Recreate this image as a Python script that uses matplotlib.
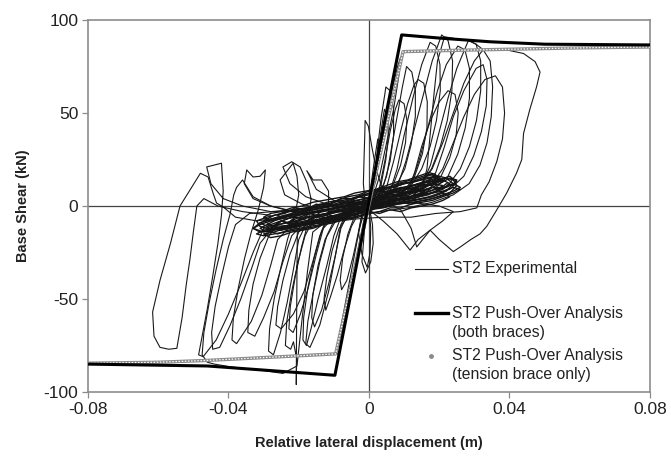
import numpy as np
import matplotlib
matplotlib.use('Agg')
import matplotlib.pyplot as plt

plt.rcParams['font.family'] = ['Liberation Sans', 'DejaVu Sans']
plt.rcParams['axes.unicode_minus'] = False

# ---- push-over curves (disp in mm, shear in kN) ----
po_disp_mm = [-80, -46, -9.7, 9.3, 20, 34.5, 50, 80]
po_shear = [-85.0, -86.0, -91.0, 92.0, 90.3, 88.3, 87.0, 86.6]

tb_disp_mm = [-80, -60, -46, -30, -9.5, 9.7, 20, 32.5, 59, 80]
tb_shear = [-84.5, -84.0, -83.0, -81.5, -79.5, 83.0, 83.5, 84.0, 85.0, 85.5]

# ---- experimental record, cycle by cycle (mm, kN) ----
core01 = [(0, 0), (3, 2), (7, 3), (11, 5), (14, 6), (16, 8), (14, 9), (10, 7), (6, 6), (2, 4), (-2, 1), (-6, -1),
          (-10, -3), (-14, -5), (-17, -7), (-15, -8), (-11, -6), (-7, -4), (-3, -2), (0, 0)]
cycA = [(0, -1), (1, 10), (2.2, 25), (3.4, 40), (4.4, 52), (5.3, 48), (5.5, 38), (4.8, 25), (3.5, 12), (1.5, 4),
        (-1.5, -4), (-3, -14), (-4.5, -27), (-6.3, -40), (-7.8, -45), (-8.2, -40), (-7.5, -28), (-6, -15),
        (-4, -5), (-1, 0)]
core02 = [(0, 0), (4, 1), (8, 3), (12, 4), (16, 6), (19, 8), (21, 11), (18, 12), (13, 10), (8, 8), (3, 5), (-2, 2),
          (-7, 0), (-12, -2), (-17, -4), (-21, -7), (-23, -9), (-20, -10), (-15, -8), (-9, -6), (-4, -3), (0, -1)]
cycB = [(-1, 0), (-1.6, 12), (-1.4, 26), (-1.2, 38), (-1.1, 46), (-0.2, 43), (0.8, 32), (2, 20), (3.5, 11),
        (5, 5), (3, 1), (0, -1), (-3, -4), (-5, -11), (-7, -23), (-9, -37), (-11, -49), (-12.3, -56),
        (-12.8, -50), (-12, -38), (-10.5, -24), (-8.5, -12), (-5, -3), (-2, 0)]
cycM = [(0, 0), (0.5, -12), (0.3, -25), (-0.5, -33), (-2, -26), (-3, -14), (-2, -4), (0, 2), (2, 14), (3, 28),
        (2.5, 36), (1.5, 24), (0.5, 10), (0, 0)]
core03 = [(0, -1), (5, 0), (9, 2), (13, 3), (18, 5), (22, 8), (24, 12), (22, 15), (17, 13), (12, 11), (7, 9),
          (2, 6), (-3, 3), (-8, 1), (-13, -1), (-18, -3), (-23, -5), (-27, -8), (-29, -10), (-26, -12),
          (-21, -10), (-15, -8), (-9, -6), (-4, -4), (0, -2)]
cycC = [(-2, 0), (0.5, 5), (1.5, 16), (2.5, 32), (3.5, 48), (4.5, 60), (4.8, 64), (6, 62), (7, 52), (7, 38),
        (6, 24), (4.3, 12), (2, 4), (-2, -1), (-6, -4), (-8, -12), (-9.5, -26), (-11.5, -42), (-13.5, -56),
        (-15.5, -65), (-16.3, -60), (-16, -48), (-14.5, -32), (-12.5, -18), (-9.5, -8), (-5, -2)]
cycN = [(-2, -5), (-4, -25), (-6, -45), (-8, -65), (-9.3, -79), (-8.5, -80), (-7, -62), (-5, -42), (-3, -22),
        (-1.5, -8), (0, 2), (2, 20), (4, 40), (6, 58), (8, 74), (9, 80), (8.5, 70), (7, 52), (5, 34),
        (3, 16), (1, 4)]
cycM2 = [(0, 0), (1, -10), (1.2, -20), (0.5, -30), (-1, -36), (-2, -30), (-1.5, -18), (-1, -6), (0, 0)]
core04 = [(0, -2), (4, -1), (8, 1), (12, 2), (16, 3), (20, 5), (23, 7), (25, 11), (24, 14), (20, 16), (15, 14),
          (10, 12), (5, 9), (0, 6), (-5, 4), (-10, 2), (-15, 0), (-20, -2), (-25, -4), (-29, -6), (-32, -8),
          (-31, -11), (-27, -13), (-22, -11), (-16, -9), (-10, -7), (-5, -5), (0, -3)]
cycP = [(-2, 0), (1, 3), (3, 10), (4.5, 24), (6, 40), (7.5, 52), (8.5, 57), (10, 55), (10.8, 46), (10.4, 34),
        (9, 22), (7, 12), (4, 5), (0, 1), (-4, -2), (-8, -5), (-12, -8), (-14, -16), (-16, -30), (-18.5, -46),
        (-21.5, -58), (-25, -66), (-26.5, -64), (-26, -54), (-24.5, -40), (-22.5, -26), (-20, -14),
        (-16, -6), (-10, -3), (-4, -1)]
core13 = [(0, 0), (2, 2), (4, 1), (6, 4), (8, 3), (10, 6), (12, 5), (14, 8), (16, 7), (18, 10), (20, 9), (22, 12),
          (24, 11), (25, 14), (23, 15), (21, 13), (19, 14), (17, 11), (15, 12), (13, 9), (11, 10), (9, 7),
          (7, 8), (5, 5), (3, 6), (1, 3), (-1, 4), (-3, 1), (-5, 2), (-7, -1), (-9, 0), (-11, -3), (-13, -2),
          (-15, -5), (-17, -4), (-19, -7), (-21, -6), (-23, -9), (-25, -8), (-27, -11), (-29, -10),
          (-31, -12), (-29, -14), (-27, -12), (-25, -13), (-23, -11), (-21, -12), (-19, -9), (-17, -10),
          (-15, -7), (-13, -8), (-11, -5), (-9, -6), (-7, -3), (-5, -4), (-3, -1), (-1, -2), (0, 0)]
cycD = [(-4, -2), (0, 1), (3, 6), (5, 16), (6.5, 32), (8, 48), (9.5, 64), (10.7, 75), (12.2, 72), (13.2, 62),
        (13.2, 48), (12, 33), (10.2, 20), (7.5, 10), (4, 4), (0, 1), (-5, -2), (-8, -6), (-10, -16),
        (-12, -32), (-14.5, -50), (-16.5, -66), (-17.8, -75), (-18.8, -72), (-18.6, -60), (-17.4, -44),
        (-15.6, -28), (-13.6, -14), (-11.5, -4), (-11.5, 8), (-13.5, 14), (-15.9, 14), (-17.7, 19),
        (-15, 9), (-10, 3), (-5, 0)]
core05 = [(0, -3), (3, 0), (6, 3), (10, 5), (14, 8), (18, 10), (21, 13), (19, 15), (15, 12), (11, 10), (7, 8),
          (3, 5), (-1, 3), (-5, 1), (-9, -1), (-13, -3), (-18, -4), (-22, -6), (-26, -9), (-28, -12),
          (-25, -13), (-20, -11), (-14, -9), (-9, -7), (-4, -5), (0, -2)]
cycE = [(-5, 0), (-1, 2), (3, 4), (5, 10), (7, 24), (9, 40), (11, 55), (12.8, 65), (14, 68), (15.6, 66),
        (16.6, 56), (16.5, 42), (15.2, 28), (13, 16), (10, 8), (6, 3), (1, 0), (-5, -3), (-10, -6),
        (-13, -12), (-15, -26), (-17.3, -44), (-19.5, -58), (-21.6, -68), (-22.8, -66), (-22.4, -54),
        (-21, -38), (-19.2, -22), (-17.2, -8), (-16.5, 4), (-17.5, 12), (-19.6, 21), (-22, 23.8),
        (-24.5, 21), (-22.5, 12), (-18, 5), (-12, 1), (-6, 0)]
core14 = [(0, 2), (3, 3), (6, 6), (9, 5), (12, 8), (15, 9), (18, 12), (21, 14), (19, 16), (16, 15), (13, 13),
          (10, 12), (7, 10), (4, 10), (1, 7), (-2, 6), (-5, 4), (-8, 4), (-11, 1), (-14, 1), (-17, -2),
          (-20, -2), (-23, -5), (-26, -6), (-29, -8), (-31, -9), (-29, -11), (-26, -10), (-23, -9), (-20, -8),
          (-17, -6), (-14, -6), (-11, -4), (-8, -3), (-5, -1), (-2, 0), (0, 2)]
cycF = [(-6, 0), (-1, 1), (3, 3), (6, 8), (8, 20), (10, 38), (12.5, 58), (15, 76), (17.4, 88), (19, 86),
        (20.2, 76), (20.3, 62), (19.2, 46), (17.4, 32), (15, 20), (12, 11), (8, 6), (3, 2), (-2, 0),
        (-6, -3), (-8, -10), (-9.5, -26), (-11.5, -46), (-14, -64), (-16.8, -76), (-18, -74), (-17.4, -62),
        (-15.8, -46), (-14, -30), (-12, -16), (-9.5, -6), (-4, -1)]
core06 = [(0, -2), (2, 3), (5, 6), (9, 8), (13, 10), (17, 12), (20, 16), (17, 17), (12, 14), (8, 12), (4, 9),
          (0, 7), (-4, 4), (-8, 2), (-12, 0), (-16, -1), (-20, -3), (-24, -5), (-28, -7), (-31, -9),
          (-33, -12), (-30, -14), (-25, -12), (-19, -10), (-13, -9), (-7, -6), (-2, -3)]
cycG = [(-3, -1), (1, 2), (5, 5), (8, 10), (10.5, 24), (13, 42), (15.5, 60), (18, 78), (20.7, 92), (22.5, 89),
        (23.8, 78), (23.6, 62), (22.3, 46), (20.3, 32), (17.8, 20), (14.5, 11), (10, 6), (4, 2), (-2, -1),
        (-8, -4), (-12, -7), (-16, -10), (-20.4, -14), (-20.6, -60), (-20.7, -96), (-20.6, -82),
        (-21.5, -73), (-22.3, -77), (-23.8, -75), (-23.4, -62), (-22, -46), (-20.2, -30), (-18.2, -16),
        (-15.5, -6), (-9, -2)]
core07 = [(-2, -3), (1, -1), (4, 2), (6, 1), (9, 4), (12, 3), (15, 6), (18, 7), (21, 9), (23, 12), (21, 14),
          (18, 11), (15, 12), (12, 9), (9, 10), (6, 7), (3, 8), (0, 4), (-3, 5), (-6, 2), (-9, 3), (-12, 0),
          (-15, 1), (-18, -2), (-21, -1), (-24, -4), (-27, -5), (-30, -8), (-28, -10), (-25, -8), (-22, -10),
          (-19, -7), (-16, -9), (-13, -6), (-10, -7), (-7, -4), (-4, -5), (-1, -2)]
cycH = [(-7, -3), (-2, 0), (4, 3), (9, 6), (12, 12), (14.5, 26), (17, 44), (19.5, 62), (22, 76), (25.3, 86),
        (27.3, 84), (28.6, 74), (28.6, 58), (27.4, 42), (25.3, 28), (22.5, 16), (18.5, 9), (13, 5), (6, 2),
        (-1, -1), (-8, -4), (-14, -7), (-18, -10), (-20, -18), (-21.5, -34), (-23.3, -52), (-25.2, -68),
        (-27.2, -80), (-28.6, -78), (-28.3, -66), (-27, -50), (-25.2, -34), (-23.2, -18), (-21.2, -6),
        (-20, 6), (-20.5, 16), (-21.6, 23), (-25.3, 14), (-24, 6), (-19, 1), (-13, -2)]
core09 = [(0, -1), (2, 1), (5, 2), (8, 4), (10, 3), (13, 6), (16, 7), (19, 9), (22, 10), (25, 13), (23, 16),
          (20, 14), (17, 13), (14, 12), (11, 10), (8, 9), (5, 8), (2, 6), (-1, 4), (-4, 3), (-7, 2), (-10, 0),
          (-13, -1), (-16, -2), (-19, -3), (-22, -5), (-25, -6), (-28, -8), (-31, -10), (-33, -12),
          (-31, -14), (-28, -13), (-25, -11), (-22, -10), (-19, -9), (-16, -8), (-13, -8), (-10, -6),
          (-7, -5), (-4, -3), (-1, -2)]
cycQ = [(-4, -1), (2, 2), (7, 4), (11, 8), (13, 18), (15, 32), (17.5, 46), (20, 56), (22.5, 62), (24.5, 60),
        (25.4, 50), (24.8, 38), (23, 26), (20.5, 16), (17, 9), (12, 5), (6, 2), (0, -1), (-7, -4), (-14, -7),
        (-19, -10), (-22, -16), (-24.5, -30), (-27, -46), (-30, -60), (-32.5, -70), (-34.5, -68),
        (-34.2, -56), (-33, -42), (-31, -28), (-28.5, -16), (-25, -8), (-19, -4), (-12, -2)]
core15 = [(0, -4), (3, -3), (6, -1), (9, -1), (12, 1), (15, 2), (18, 3), (21, 5), (24, 7), (26, 9), (24, 10),
          (21, 8), (18, 7), (15, 6), (12, 5), (9, 4), (6, 3), (3, 1), (0, 0), (-3, -1), (-6, -3), (-9, -3),
          (-12, -5), (-15, -6), (-18, -8), (-21, -9), (-24, -11), (-27, -12), (-30, -13), (-32, -15),
          (-30, -16), (-27, -15), (-24, -14), (-21, -13), (-18, -12), (-15, -11), (-12, -9), (-9, -8),
          (-6, -7), (-3, -6), (0, -4)]
cycI = [(-13, -2), (-7, 0), (-1, 2), (5, 4), (11, 7), (15, 11), (17.5, 22), (20, 40), (22.5, 58), (25, 74),
        (28.3, 89), (30.5, 87), (31.8, 78), (31.8, 62), (30.6, 46), (28.6, 32), (26, 20), (22.5, 11),
        (17, 6), (10, 3), (3, 0), (-4, -3), (-11, -6), (-18, -9), (-23, -12), (-26, -18), (-28, -32),
        (-30.5, -48), (-33.5, -62), (-37.7, -74), (-39, -72), (-38.6, -60), (-37.2, -44), (-35.4, -28),
        (-33.5, -14), (-31.5, -2), (-30, 10), (-29.5, 19.4), (-31, 16), (-33, 15.6), (-34.8, 19.4),
        (-35.5, 12), (-33, 4), (-28, 0), (-22, -3), (-16, -4)]
core10 = [(0, 0), (3, -1), (6, 0), (9, 2), (12, 1), (15, 3), (18, 4), (21, 6), (24, 8), (26, 10), (24, 12),
          (21, 10), (18, 10), (15, 8), (12, 7), (9, 6), (6, 5), (3, 3), (0, 2), (-3, 1), (-6, -1), (-9, -2),
          (-12, -4), (-15, -5), (-18, -6), (-21, -8), (-24, -9), (-27, -11), (-29, -13), (-26, -15),
          (-23, -13), (-20, -12), (-17, -11), (-14, -10), (-11, -8), (-8, -7), (-5, -5), (-2, -3), (0, 0)]
cycR = [(-12, -2), (-5, 0), (3, 3), (10, 6), (16, 10), (19, 18), (21.5, 32), (24, 48), (27, 62), (30.5, 74),
        (32.5, 76), (33.6, 68), (33.4, 54), (32, 40), (29.8, 27), (27, 16), (23, 9), (17, 5), (10, 2),
        (2, -1), (-6, -4), (-14, -7), (-22, -10), (-28, -13), (-31, -20), (-33.5, -34), (-36.5, -50),
        (-39.5, -64), (-42.5, -76), (-44.5, -77), (-44.8, -68), (-43.8, -54), (-42, -38), (-40, -22),
        (-38, -10), (-34, -4), (-27, -3), (-20, -2)]
cycJ = [(-17, -4), (-10, -1), (-3, 2), (4, 4), (10, 6), (15, 9), (16.5, 20), (17.5, 40), (18.5, 60),
        (19.5, 78), (21.5, 91), (24.5, 90), (28.3, 89), (30.5, 87), (32.5, 84), (34.5, 78), (35.2, 64),
        (34.8, 48), (33.6, 34), (31.6, 22), (28.5, 12), (24, 6), (18, 2), (11, -1), (3, -3), (-5, -6),
        (-12, -8), (-16, -14), (-17.5, -35), (-19, -60), (-20.5, -86), (-24.5, -90), (-30, -88.5),
        (-35, -87.5), (-39.6, -86.4), (-44, -85), (-46, -84), (-47.5, -80), (-47, -68), (-45.5, -52),
        (-43.5, -34), (-41.5, -18), (-39.5, -4), (-38.5, 6), (-37.7, 10), (-36, 14), (-33, 5), (-28, 0),
        (-21, -3)]
core11 = [(0, 1), (3, 4), (6, 5), (9, 7), (12, 8), (15, 10), (18, 12), (20, 14), (18, 17), (15, 15), (12, 13),
          (9, 12), (6, 10), (3, 9), (0, 8), (-3, 6), (-6, 5), (-9, 3), (-12, 2), (-15, 0), (-18, -1),
          (-21, -2), (-24, -3), (-26, -5), (-24, -7), (-21, -6), (-18, -6), (-15, -5), (-12, -4), (-9, -3),
          (-6, -2), (-3, -1), (0, 1)]
lowR = [(0, -2), (4, -8), (8, -15), (11.7, -23.7), (14, -18), (17.4, -13), (21, -8), (24, -3), (20, 0),
        (12, 2), (5, 0), (0, -2)]
cycK = [(-21, -3), (-14, -1), (-7, 1), (0, 3), (7, 5), (13, 8), (18, 12), (21, 20), (24, 34), (27, 48),
        (30, 60), (33, 68), (36, 70), (38, 64), (38.6, 50), (38, 36), (36.4, 24), (34.2, 13), (32, 6),
        (30.7, -1), (26, -3), (19, -4), (12, -6), (4, -6), (-4, -7), (-12, -9), (-20, -10), (-27, -11),
        (-30, -12), (-33, -25), (-36.5, -42), (-40, -58), (-43.5, -72), (-47.2, -81), (-48.5, -80),
        (-47.5, -70), (-46, -55), (-44.5, -38), (-43, -20), (-42, -5), (-41.5, 8), (-42, 23), (-46.2, 21),
        (-45, 12), (-41.5, 4), (-36, 0), (-28, -3)]
core16 = [(0, 3), (2, 5), (5, 7), (8, 9), (11, 10), (14, 12), (17, 14), (19, 17), (17, 18), (14, 16), (11, 14),
          (8, 13), (5, 11), (2, 9), (-1, 8), (-4, 7), (-7, 5), (-10, 4), (-13, 3), (-16, 2), (-19, 0),
          (-22, -1), (-25, -3), (-28, -4), (-30, -6), (-28, -8), (-25, -7), (-22, -5), (-19, -4), (-16, -3),
          (-13, -2), (-10, -1), (-7, 0), (-4, 1), (-1, 2)]
core12 = [(0, -3), (3, -4), (6, -2), (9, -3), (12, -1), (15, 0), (18, 1), (21, 3), (23, 5), (21, 7), (18, 5),
          (15, 4), (12, 3), (9, 2), (6, 1), (3, 0), (0, -1), (-3, -2), (-6, -4), (-9, -5), (-12, -6),
          (-15, -8), (-18, -9), (-21, -11), (-24, -12), (-27, -14), (-30, -15), (-28, -17), (-25, -16),
          (-22, -14), (-19, -13), (-16, -12), (-13, -10), (-10, -9), (-7, -7), (-4, -6), (-1, -4)]
cycL = [(-28, -3), (-20, -2), (-12, 0), (-4, 2), (3, 4), (9, -2), (12, -12), (13.6, -22), (17.4, -13),
        (20, -18), (24, -24.5), (26, -22), (29, -18), (31.6, -15), (33.5, -11), (36.4, -2), (39.2, 7),
        (42, 17.7), (43.5, 25), (44, 39), (45.8, 52), (47.7, 64), (48.7, 72), (47.3, 77.6), (44, 82),
        (39, 84), (32.5, 84), (30, 78), (27, 66), (24, 50), (21, 34), (18, 20), (14, 10), (8, 6), (0, 2),
        (-8, -1), (-16, -4), (-24, -6), (-32, -8), (-38, -6), (-41.5, -0.5), (-43.4, 1.6), (-44.4, 7),
        (-45.8, 15.6), (-48, 17.6), (-50.5, 10), (-53.8, 0), (-56.5, -20), (-59.5, -40), (-61.6, -57),
        (-61.2, -70), (-59.5, -76), (-57, -77), (-54.7, -76.5), (-53.2, -60), (-52, -42), (-51, -29),
        (-50, -14), (-49, 0), (-47, 4), (-43, 0), (-36, -3), (-28, -5)]

big_cycles = [cycA, cycB, cycM, cycC, cycN, cycM2, cycP, cycD, cycE, cycF, cycG, cycH, cycQ, cycI, cycR,
              cycJ, lowR, cycK, cycL]
core_cycles = [core01, core02, core03, core04, core05, core06, core07, core09, core10, core11, core12,
               core13, core14, core15, core16]

fig = plt.figure(figsize=(6.71, 4.57), dpi=100)
ax = fig.add_axes([0.1311, 0.1422, 0.8376, 0.814])

for cyc in big_cycles:
    c = np.array(cyc, dtype=float)
    ax.plot(c[:, 0] / 1000.0, c[:, 1], color='#1a1a1a', lw=0.8, zorder=2)
for cyc in core_cycles:
    c = np.array(cyc, dtype=float)
    ax.plot(c[:, 0] / 1000.0, c[:, 1], color='#141414', lw=1.0, zorder=2)

ax.axhline(0, color='#444444', lw=0.9, zorder=1)
ax.axvline(0, color='#444444', lw=0.9, zorder=1)

# tension brace only: chain of small hollow circles
tbx = np.array(tb_disp_mm) / 1000.0
ax.plot(tbx, tb_shear, color='#8a8a8a', lw=2.4, zorder=3, solid_capstyle='butt')
ax.plot(tbx, tb_shear, color='white', lw=0.9, ls=(0, (1.2, 1.3)), zorder=4)

# both braces
ax.plot(np.array(po_disp_mm) / 1000.0, po_shear, color='black', lw=2.2, zorder=5)

ax.set_xlim(-0.08, 0.08)
ax.set_ylim(-100, 100)
ax.set_xticks([-0.08, -0.04, 0, 0.04, 0.08])
ax.set_xticklabels(['-0.08', '-0.04', '0', '0.04', '0.08'])
ax.set_yticks([-100, -50, 0, 50, 100])
ax.set_yticklabels(['-100', '-50', '0', '50', '100'])
ax.tick_params(direction='out', length=4, width=0.9, colors='#8c8c8c', labelcolor='#222222',
               labelsize=12.5, pad=3)
for s in ax.spines.values():
    s.set_color('#8c8c8c')
    s.set_linewidth(1.2)

ax.set_xlabel('Relative lateral displacement (m)', fontsize=10.5, fontweight='bold', color='#222222',
              labelpad=14)
ax.set_ylabel('Base Shear (kN)', fontsize=10.5, fontweight='bold', color='#222222', labelpad=10)

# hand-placed legend
tf = ax.transAxes
ax.plot([0.582, 0.641], [0.331, 0.331], color='#1a1a1a', lw=0.8, transform=tf, zorder=6)
ax.plot([0.582, 0.641], [0.212, 0.212], color='black', lw=2.4, transform=tf, zorder=6)
ax.plot([0.610], [0.097], marker='o', ms=2.5, color='#8a8a8a', ls='none', transform=tf, zorder=6)
lkw = dict(transform=tf, fontsize=11.3, color='#222222', va='center', ha='left')
ax.text(0.648, 0.331, 'ST2 Experimental', **lkw)
ax.text(0.648, 0.212, 'ST2 Push-Over Analysis', **lkw)
ax.text(0.648, 0.159, '(both braces)', **lkw)
ax.text(0.648, 0.097, 'ST2 Push-Over Analysis', **lkw)
ax.text(0.648, 0.046, '(tension brace only)', **lkw)

fig.savefig('out.png', dpi=100)
